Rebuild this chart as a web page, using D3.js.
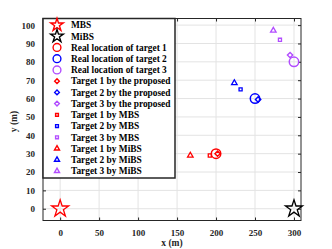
<!DOCTYPE html>
<html>
<head>
<meta charset="utf-8">
<script src="https://cdn.jsdelivr.net/npm/d3@7"></script>
<style>
  body { margin: 0; background: #fff; }
  text { font-family: "Liberation Serif", "DejaVu Serif", serif; font-weight: bold; }
</style>
</head>
<body>
<div class="chart"></div>
<script>
// Localisation results: base stations, real targets and estimates
var svgWidth = 332;
var svgHeight = 249;

var margin = { top: 18.5, right: 31, bottom: 28.5, left: 43 };
var width = svgWidth - margin.left - margin.right;
var height = svgHeight - margin.top - margin.bottom;

// data
var stations = [
  { name: "MBS", x: 0, y: 0, color: "#ff0000" },
  { name: "MiBS", x: 300, y: 0, color: "#000000" }
];
var targetColors = ["#ff0000", "#0000ff", "#b24dff"];
var realX = [200, 250, 300];
var realY = [30, 60, 80];
var proposedX = [202, 254, 295];
var proposedY = [30, 59.5, 83.7];
var mbsX = [192, 231.5, 282];
var mbsY = [29, 65, 92];
var mibsX = [167, 223.5, 273.5];
var mibsY = [29, 68.5, 97];
var xTicks = [0, 50, 100, 150, 200, 250, 300];
var yTicks = [0, 10, 20, 30, 40, 50, 60, 70, 80, 90, 100];

var legendLabels = [
  "MBS", "MiBS",
  "Real location of target 1", "Real location of target 2", "Real location of target 3",
  "Target 1 by the proposed", "Target 2 by the proposed", "Target 3 by the proposed",
  "Target 1 by MBS", "Target 2 by MBS", "Target 3 by MBS",
  "Target 1 by MiBS", "Target 2 by MiBS", "Target 3 by MiBS"
];

var svg = d3.select(".chart").append("svg")
  .attr("width", svgWidth)
  .attr("height", svgHeight);

var chart = svg.append("g")
  .attr("transform", "translate(" + margin.left + "," + margin.top + ")");

var x = d3.scaleLinear().domain([-22, 309]).range([0, width]);
var y = d3.scaleLinear().domain([-6.4, 103.6]).range([height, 0]);

// grid
chart.append("g").selectAll("line").data(xTicks).enter().append("line")
  .attr("x1", function(d) { return x(d); }).attr("x2", function(d) { return x(d); })
  .attr("y1", 0).attr("y2", height)
  .attr("stroke", "#e3e3e3").attr("stroke-width", 1);
chart.append("g").selectAll("line").data(yTicks).enter().append("line")
  .attr("y1", function(d) { return y(d); }).attr("y2", function(d) { return y(d); })
  .attr("x1", 0).attr("x2", width)
  .attr("stroke", "#e3e3e3").attr("stroke-width", 1);

// axes (ticks inside, mirrored on top/right)
function styleAxis(g) {
  g.select(".domain").remove();
  g.selectAll(".tick line").attr("stroke", "#262626");
  g.selectAll(".tick text").attr("font-size", 9).attr("fill", "#262626");
}
chart.append("g").attr("transform", "translate(0," + height + ")")
  .call(d3.axisBottom(x).tickValues(xTicks).tickSizeInner(-3).tickPadding(9))
  .call(styleAxis);
chart.append("g")
  .call(d3.axisTop(x).tickValues(xTicks).tickSizeInner(-3).tickFormat(""))
  .call(styleAxis);
chart.append("g")
  .call(d3.axisLeft(y).tickValues(yTicks).tickSizeInner(-3).tickPadding(8))
  .call(styleAxis);
chart.append("g").attr("transform", "translate(" + width + ",0)")
  .call(d3.axisRight(y).tickValues(yTicks).tickSizeInner(-3).tickFormat(""))
  .call(styleAxis);

chart.append("rect")
  .attr("width", width).attr("height", height)
  .attr("fill", "none").attr("stroke", "#262626").attr("stroke-width", 1);

// marker shapes
var sym = {
  star: function(s) { return d3.symbol(d3.symbolStar, s)(); },
  circle: function(s) { return d3.symbol(d3.symbolCircle, s)(); },
  diamond: function(s) { return d3.symbol(d3.symbolDiamond2, s)(); },
  square: function(s) { return d3.symbol(d3.symbolSquare2, s)(); },
  triangle: function(s) { return d3.symbol(d3.symbolTriangle2, s)(); }
};

function drawPts(xs, ys, shape, size, sw) {
  chart.append("g").selectAll("path").data(xs).enter().append("path")
    .attr("d", sym[shape](size))
    .attr("transform", function(d, i) { return "translate(" + x(d) + "," + y(ys[i]) + ")"; })
    .attr("fill", "none")
    .attr("stroke", function(d, i) { return targetColors[i]; })
    .attr("stroke-width", sw);
}

drawPts(realX, realY, "circle", 70, 1.5);
drawPts(proposedX, proposedY, "diamond", 18, 1.4);
drawPts(mbsX, mbsY, "square", 12, 1.3);
drawPts(mibsX, mibsY, "triangle", 22, 1.3);

chart.append("g").selectAll("path").data(stations).enter().append("path")
  .attr("d", sym.star(90))
  .attr("transform", function(d) { return "translate(" + x(d.x) + "," + y(d.y) + ")"; })
  .attr("fill", "none")
  .attr("stroke", function(d) { return d.color; })
  .attr("stroke-width", 1.3);

// legend
var legW = 132, legH = 159.5, rowH = 11.23;
var legend = chart.append("g");
legend.append("rect")
  .attr("x", 0).attr("y", 0).attr("width", legW).attr("height", legH)
  .attr("fill", "#fff").attr("stroke", "#262626").attr("stroke-width", 1.5);

var legShapes = ["star", "star", "circle", "circle", "circle",
  "diamond", "diamond", "diamond", "square", "square", "square",
  "triangle", "triangle", "triangle"];
var legSizes = { star: 50, circle: 48, diamond: 14, square: 10, triangle: 18 };
var legColors = ["#ff0000", "#000000"].concat(targetColors, targetColors, targetColors, targetColors);

var rows = legend.selectAll("g.row").data(legendLabels).enter().append("g")
  .attr("class", "row")
  .attr("transform", function(d, i) { return "translate(0," + (6.5 + i * rowH) + ")"; });
rows.append("path")
  .attr("d", function(d, i) { return sym[legShapes[i]](legSizes[legShapes[i]]); })
  .attr("transform", "translate(14,0)")
  .attr("fill", "none")
  .attr("stroke", function(d, i) { return legColors[i]; })
  .attr("stroke-width", 1.4);
rows.append("text")
  .attr("x", 28).attr("dy", "0.35em")
  .attr("font-size", 9.4).attr("fill", "#000")
  .text(function(d) { return d; });

// axis labels
chart.append("text")
  .attr("transform", "translate(" + (width / 2) + "," + (height + 25.5) + ")")
  .attr("text-anchor", "middle").attr("font-size", 9.5).attr("fill", "#262626")
  .text("x (m)");
chart.append("text")
  .attr("transform", "translate(" + (-26) + "," + (height / 2 + 2) + ") rotate(-90)")
  .attr("text-anchor", "middle").attr("font-size", 9.5).attr("fill", "#262626")
  .text("y (m)");
</script>
</body>
</html>
